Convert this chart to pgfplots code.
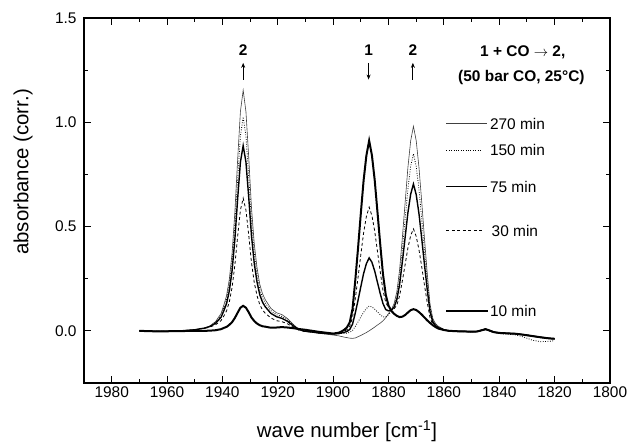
\documentclass[border=0pt]{standalone}
\usepackage{pgfplots}
\pgfplotsset{compat=1.18}
\usepackage{fontspec}
\setmainfont{Liberation Sans}
\usetikzlibrary{arrows.meta}
\begin{document}
\begin{tikzpicture}
\useasboundingbox (-84bp,-59bp) rectangle (545bp,383bp);
\begin{axis}[
  scale only axis, width=526bp, height=365bp, at={(0,0)}, anchor=south west,
  clip=false,
  xmin=1800, xmax=1990, x dir=reverse, ymin=-0.25, ymax=1.5,
  xtick={1800,1820,...,1980}, minor x tick num=1,
  ytick={0,0.5,1,1.5}, minor y tick num=1,
  tick align=inside, major tick length=7bp, minor tick length=4bp,
  axis line style={line width=1.2bp},
  every tick/.style={line width=1bp, black},
  /pgf/number format/assume math mode=true,
  ticklabel style={font=\fontsize{15.5}{18}\selectfont},
  xticklabel style={/pgf/number format/1000 sep={}},
  yticklabel style={/pgf/number format/fixed, /pgf/number format/fixed zerofill, /pgf/number format/precision=1, xshift=-4bp},
  xlabel={wave number [cm\textsuperscript{-1}]},
  ylabel={absorbance (corr.)},
  label style={font=\fontsize{20.5}{24}\selectfont},
  xlabel style={at={(axis description cs:0.5,-0.150)}, anchor=base},
  ylabel style={at={(axis description cs:-0.116,0.578)}, anchor=center},
]
% 270 min
\addplot[line width=0.6bp, black!75] table {
1970 0.000
1965 -0.002
1960 -0.002
1955 0.000
1950 0.005
1948 0.010
1946.5 0.013
1944.5 0.024
1942.5 0.044
1940.5 0.083
1939.5 0.123
1938.5 0.169
1937.5 0.248
1936.5 0.374
1935.5 0.570
1934.5 0.821
1933.5 1.051
1932.5 1.154
1931.5 1.051
1930.5 0.833
1929.5 0.591
1928.5 0.418
1927.5 0.303
1926.5 0.223
1925.5 0.177
1924.5 0.149
1922.5 0.108
1920.5 0.087
1918.5 0.078
1916.5 0.059
1914.5 0.032
1912.5 0.009
1910.5 -0.001
1905 -0.012
1900 -0.020
1898 -0.024
1896 -0.030
1894 -0.035
1893 -0.036
1892 -0.034
1891 -0.028
1890 -0.022
1889 -0.015
1888 -0.008
1887 0.000
1886 0.009
1885 0.018
1884 0.028
1883 0.037
1882 0.048
1881 0.063
1880 0.083
1879 0.101
1878 0.130
1877 0.187
1876 0.293
1875 0.448
1874 0.615
1873 0.783
1872 0.911
1871 0.981
1870 0.912
1869 0.784
1868 0.618
1867 0.441
1866 0.274
1865 0.128
1864 0.059
1863 0.034
1862 0.022
1860 0.007
1858 -0.001
1855 -0.002
1852 -0.003
1850 -0.004
1848 -0.002
1846 0.006
1845 0.011
1844 0.006
1842 -0.005
1840 -0.010
1837 -0.012
1834 -0.014
1831 -0.018
1828 -0.024
1825 -0.030
1822 -0.035
1820 -0.038
};
% 150 min
\addplot[line width=0.8bp, black, dash pattern=on 0.8bp off 1.6bp] table {
1970 0.000
1965 -0.002
1960 -0.002
1955 0.000
1950 0.005
1948 0.010
1946.5 0.013
1944.5 0.022
1942.5 0.041
1940.5 0.074
1939.5 0.110
1938.5 0.151
1937.5 0.221
1936.5 0.333
1935.5 0.507
1934.5 0.730
1933.5 0.934
1932.5 1.026
1931.5 0.934
1930.5 0.740
1929.5 0.526
1928.5 0.372
1927.5 0.270
1926.5 0.199
1925.5 0.158
1924.5 0.133
1922.5 0.097
1920.5 0.077
1918.5 0.069
1916.5 0.053
1914.5 0.029
1912.5 0.008
1910.5 -0.001
1905 -0.010
1900 -0.015
1898 -0.014
1896 -0.012
1895 -0.011
1894 -0.007
1893 0.002
1892 0.021
1891 0.043
1890 0.067
1889 0.089
1888 0.107
1887 0.119
1886 0.115
1885 0.104
1884 0.091
1883 0.077
1882 0.067
1881 0.067
1880 0.078
1879 0.091
1878 0.115
1877 0.164
1876 0.255
1875 0.391
1874 0.535
1873 0.679
1872 0.789
1871 0.849
1870 0.789
1869 0.679
1868 0.535
1867 0.382
1866 0.237
1865 0.110
1864 0.051
1863 0.030
1862 0.019
1860 0.006
1858 -0.001
1855 -0.003
1852 -0.004
1850 -0.005
1848 -0.004
1846 0.002
1845 0.005
1844 0.001
1842 -0.008
1840 -0.013
1837 -0.016
1834 -0.020
1831 -0.030
1828 -0.045
1825 -0.052
1822 -0.050
1820 -0.047
};
% 30 min
\addplot[line width=0.8bp, black, dash pattern=on 3bp off 2.5bp] table {
1970 0.000
1965 -0.002
1960 -0.002
1955 0.000
1950 0.005
1948 0.010
1946.5 0.012
1944.5 0.018
1942.5 0.029
1940.5 0.049
1939.5 0.071
1938.5 0.096
1937.5 0.139
1936.5 0.209
1935.5 0.316
1934.5 0.453
1933.5 0.579
1932.5 0.636
1931.5 0.579
1930.5 0.460
1929.5 0.327
1928.5 0.232
1927.5 0.169
1926.5 0.125
1925.5 0.100
1924.5 0.084
1922.5 0.062
1920.5 0.049
1918.5 0.044
1916.5 0.034
1914.5 0.018
1912.5 0.004
1910.5 -0.002
1905 -0.010
1900 -0.015
1898 -0.011
1897 -0.007
1896 -0.002
1895 0.006
1894 0.022
1893 0.064
1892 0.154
1891 0.257
1890 0.366
1889 0.470
1888 0.548
1887 0.593
1886 0.553
1885 0.479
1884 0.382
1883 0.284
1882 0.194
1881 0.136
1880 0.111
1879 0.102
1878 0.106
1877 0.123
1876 0.168
1875 0.240
1874 0.318
1873 0.397
1872 0.457
1871 0.489
1870 0.453
1869 0.389
1868 0.307
1867 0.218
1866 0.135
1865 0.063
1864 0.029
1863 0.017
1862 0.011
1860 0.003
1858 -0.001
1855 -0.002
1852 -0.003
1850 -0.004
1848 -0.003
1846 0.004
1845 0.008
1844 0.004
1842 -0.006
1840 -0.010
1837 -0.012
1834 -0.014
1831 -0.019
1828 -0.025
1825 -0.031
1822 -0.036
1820 -0.038
};
% 75 min
\addplot[line width=1.4bp, black] table {
1970 0.000
1965 -0.002
1960 -0.002
1955 0.000
1950 0.005
1948 0.010
1946.5 0.013
1944.5 0.021
1942.5 0.036
1940.5 0.065
1939.5 0.096
1938.5 0.131
1937.5 0.192
1936.5 0.289
1935.5 0.439
1934.5 0.632
1933.5 0.809
1932.5 0.888
1931.5 0.809
1930.5 0.641
1929.5 0.456
1928.5 0.323
1927.5 0.234
1926.5 0.173
1925.5 0.137
1924.5 0.115
1922.5 0.084
1920.5 0.068
1918.5 0.060
1916.5 0.046
1914.5 0.025
1912.5 0.007
1910.5 -0.001
1905 -0.010
1900 -0.015
1898 -0.013
1897 -0.010
1896 -0.007
1895 -0.003
1894 0.007
1893 0.032
1892 0.086
1891 0.147
1890 0.212
1889 0.275
1888 0.322
1887 0.350
1886 0.329
1885 0.287
1884 0.233
1883 0.179
1882 0.131
1881 0.102
1880 0.096
1879 0.099
1878 0.114
1877 0.149
1876 0.222
1875 0.331
1874 0.448
1873 0.566
1872 0.655
1871 0.704
1870 0.653
1869 0.562
1868 0.442
1867 0.316
1866 0.196
1865 0.091
1864 0.042
1863 0.025
1862 0.015
1860 0.005
1858 -0.001
1855 -0.002
1852 -0.003
1850 -0.004
1848 -0.003
1846 0.004
1845 0.008
1844 0.004
1842 -0.006
1840 -0.010
1837 -0.012
1834 -0.014
1831 -0.019
1828 -0.025
1825 -0.031
1822 -0.036
1820 -0.038
};
% 10 min
\addplot[line width=2bp, black] table {
1970 0.000
1965 -0.002
1960 -0.002
1955 -0.001
1950 0.000
1948 0.000
1946.5 0.000
1944.5 0.001
1942.5 0.003
1940.5 0.008
1939.5 0.014
1938.5 0.019
1937.5 0.029
1936.5 0.042
1935.5 0.062
1934.5 0.087
1933.5 0.111
1932.5 0.120
1931.5 0.111
1930.5 0.089
1929.5 0.064
1928.5 0.047
1927.5 0.035
1926.5 0.027
1925.5 0.022
1924.5 0.020
1922.5 0.015
1920.5 0.016
1918.5 0.018
1916.5 0.016
1914.5 0.013
1912.5 0.009
1910.5 0.006
1905 -0.005
1900 -0.013
1898 -0.009
1897 -0.003
1896 0.005
1895 0.017
1894 0.041
1893 0.105
1892 0.243
1891 0.398
1890 0.564
1889 0.721
1888 0.840
1887 0.912
1886 0.842
1885 0.724
1884 0.571
1883 0.416
1882 0.272
1881 0.173
1880 0.121
1879 0.096
1878 0.082
1877 0.072
1876 0.066
1875 0.068
1874 0.076
1873 0.088
1872 0.099
1871 0.104
1870 0.100
1869 0.090
1868 0.078
1867 0.064
1866 0.050
1865 0.038
1864 0.027
1863 0.018
1862 0.011
1860 0.004
1858 0.000
1855 -0.002
1852 -0.003
1850 -0.004
1848 -0.003
1846 0.004
1845 0.008
1844 0.004
1842 -0.006
1840 -0.010
1837 -0.012
1834 -0.014
1831 -0.019
1828 -0.025
1825 -0.031
1822 -0.036
1820 -0.038
};
% legend samples
\draw[line width=0.6bp, black!75] (axis cs:1859.1,0.993) -- (axis cs:1844.6,0.993);
\draw[line width=0.8bp, black, dash pattern=on 0.8bp off 1.6bp] (axis cs:1859.1,0.865) -- (axis cs:1846.4,0.865);
\draw[line width=1.4bp, black] (axis cs:1859.1,0.691) -- (axis cs:1844.6,0.691);
\draw[line width=0.8bp, black, dash pattern=on 3bp off 2.5bp] (axis cs:1859.1,0.481) -- (axis cs:1846.0,0.481);
\draw[line width=2bp, black] (axis cs:1859.1,0.097) -- (axis cs:1844.2,0.097);
\begin{scope}[every node/.style={font=\fontsize{15.5}{18}\selectfont, anchor=west, inner sep=0pt}]
\node at (axis cs:1843.4,0.993) {270 min};
\node at (axis cs:1843.4,0.865) {150 min};
\node at (axis cs:1843.4,0.691) {75 min};
\node at (axis cs:1842.8,0.481) {30 min};
\node at (axis cs:1843.4,0.097) {10 min};
\end{scope}
% annotations
\begin{scope}[every node/.style={font=\bfseries\fontsize{15.5}{18}\selectfont, inner sep=0pt}]
\node at (axis cs:1932.5,1.345) {2};
\node at (axis cs:1887.2,1.345) {1};
\node at (axis cs:1871.2,1.345) {2};
\node at (axis cs:1831.5,1.337) {1 + CO $\rightarrow$ 2,};
\node at (axis cs:1832,1.216) {(50 bar CO, 25°C)};
\end{scope}
\draw[-{Stealth[length=5bp,width=4bp]}, line width=0.8bp] (axis cs:1932.5,1.205) -- (axis cs:1932.5,1.285);
\draw[-{Stealth[length=5bp,width=4bp]}, line width=0.8bp] (axis cs:1887.2,1.285) -- (axis cs:1887.2,1.205);
\draw[-{Stealth[length=5bp,width=4bp]}, line width=0.8bp] (axis cs:1871.2,1.205) -- (axis cs:1871.2,1.285);
\end{axis}
\end{tikzpicture}
\end{document}
